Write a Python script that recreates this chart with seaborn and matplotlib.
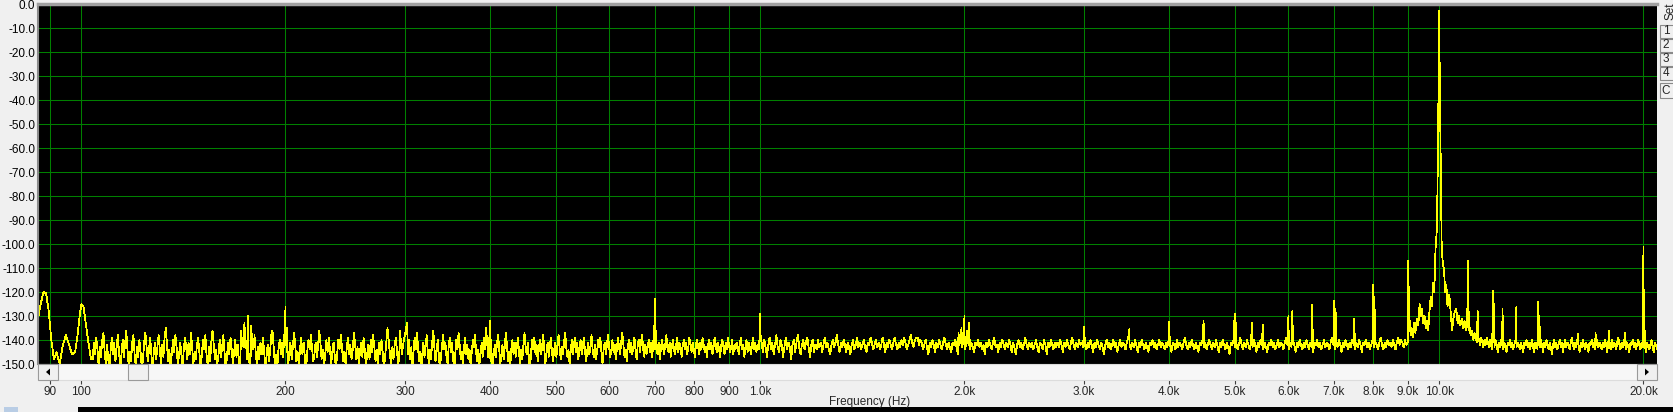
import numpy as np
import pandas as pd
import matplotlib
matplotlib.use("Agg")
import matplotlib.pyplot as plt
import seaborn as sns
from matplotlib.patches import Rectangle, Polygon
from matplotlib.ticker import NullLocator

# ---- data (dB) ----
# start of the trace: mains harmonics at the left edge
low_freqs = [86.4, 87.2, 88.0, 88.8, 89.6, 90.4, 91.2, 92.0, 93.0, 94.0, 95.0,
             96.0, 97.0, 98.0, 98.8, 99.5, 100.1, 100.8, 101.6, 102.5, 103.4]
low_db = [-131, -125, -120, -120.5, -128, -140, -148, -145, -150, -142, -138,
          -142, -146, -145, -138, -130, -125, -126, -133, -141, -148]

# noise floor, band by band (start Hz, end Hz, readings)
b1_range = (104, 298)
b1_db = [-148, -141, -146, -139, -144, -151, -143, -147, -140, -137, -145, -150, -142, -148, -153, -144, -139, -146, -141, -149,
         -143, -138, -145, -152, -146, -140, -147, -142, -136, -144, -150, -145, -149, -141, -138, -146, -151, -143, -147, -140,
         -145, -152, -148, -141, -137, -143, -149, -144, -139, -146, -153, -145, -141, -148, -143, -138, -144, -150, -142, -147,
         -139, -135, -142, -149, -144, -151, -146, -140, -145, -138, -143, -150, -147, -141, -146, -152, -144, -139, -143, -148,
         -141, -146, -137, -143, -150, -145, -148, -142, -139, -145, -152, -147, -140, -144, -138, -146, -151, -143, -149, -141,
         -136, -142, -148, -144, -150, -146, -140, -147, -143, -138, -145, -153, -147, -141, -146, -139, -144, -150, -145, -140,
         -147, -142, -149, -152, -144, -139, -143, -137, -142, -148, -145, -151, -146, -140, -144, -138, -145, -150, -143, -148,
         -141, -146, -139, -144, -151, -147, -142, -149, -145, -138, -136, -143, -150, -146, -152, -144, -140, -146, -141, -147,
         -143, -138, -145, -151, -146, -141, -148, -143, -137, -142, -149, -145, -150, -144, -139, -146, -141, -147, -153, -145,
         -140, -144, -138, -143, -149, -146, -141, -147, -143, -136, -141, -148, -144, -151, -146, -140, -145, -139, -144, -150,
         -145, -141, -147, -152, -146, -140, -144, -138, -143, -149, -145, -150, -143, -139, -146, -142, -148, -144, -137, -142,
         -148, -143, -150, -145, -141, -147, -139, -144, -151, -146, -142, -148, -140, -145, -138, -143, -149, -144, -150, -141,
         -146, -140, -145, -152, -147, -141, -135, -140, -146, -150, -143, -148, -142, -139, -145, -151, -144, -140, -146, -142]

b2_range = (303, 995)
b2_db = [-146, -140, -148, -143, -151, -145, -139, -144, -137, -142, -149, -145, -152, -146, -141, -147, -143, -138, -145, -150,
         -144, -148, -141, -136, -143, -149, -145, -140, -146, -152, -147, -142, -138, -144, -141, -147, -150, -143, -139, -145,
         -141, -147, -153, -146, -140, -144, -137, -142, -148, -145, -150, -143, -139, -146, -142, -148, -144, -151, -145, -140,
         -143, -138, -145, -149, -144, -150, -146, -141, -147, -139, -144, -135, -141, -147, -143, -149, -145, -152, -146, -142,
         -147, -141, -138, -144, -150, -146, -142, -148, -143, -137, -142, -149, -145, -151, -144, -140, -146, -141, -147, -143,
         -139, -145, -150, -144, -148, -142, -137, -143, -146, -141, -148, -152, -145, -140, -144, -139, -146, -142, -149, -144,
         -140, -146, -143, -138, -144, -150, -145, -141, -147, -143, -139, -145, -149, -144, -141, -147, -142, -138, -144, -148,
         -143, -146, -141, -137, -143, -147, -144, -150, -145, -140, -146, -142, -139, -145, -141, -148, -144, -140, -146, -143,
         -139, -144, -149, -145, -141, -146, -143, -138, -144, -147, -142, -148, -145, -140, -143, -139, -145, -150, -144, -141,
         -146, -142, -138, -143, -147, -144, -140, -145, -142, -148, -144, -139, -143, -146, -141, -137, -142, -147, -144, -149,
         -143, -140, -145, -141, -146, -143, -139, -144, -148, -142, -140, -145, -141, -138, -144, -147, -142, -146, -143, -140,
         -145, -141, -147, -143, -139, -144, -142, -146, -141, -148, -144, -140, -143, -146, -142, -138, -143, -145, -141, -147,
         -143, -140, -144, -146, -142, -139, -145, -141, -143, -147, -142, -140, -144, -141, -146, -143, -139, -142, -145, -141,
         -144, -147, -142, -140, -143, -146, -141, -144, -139, -142, -145, -143, -147, -142, -140, -144, -141, -146, -143, -139,
         -142, -145, -141, -144, -147, -142, -140, -143, -146, -141, -144, -139, -142, -145, -143, -140, -146, -142, -144, -141,
         -143, -146, -141, -139, -144, -142, -147, -143, -140, -145, -141, -143, -146, -142, -139, -144, -141, -145, -142, -144]

b3_range = (1005, 2990)
b3_db = [-141, -145, -140, -143, -147, -142, -139, -144, -141, -146, -142, -138, -143, -145, -140, -142, -147, -143, -139, -144,
         -141, -143, -148, -142, -140, -145, -141, -138, -143, -146, -142, -140, -144, -141, -139, -143, -147, -142, -140, -145,
         -142, -144, -140, -143, -141, -145, -142, -139, -143, -141, -144, -146, -142, -140, -143, -141, -138, -142, -145, -141,
         -143, -140, -142, -145, -141, -143, -146, -142, -140, -144, -142, -139, -143, -141, -144, -142, -140, -143, -145, -141,
         -142, -139, -141, -144, -142, -140, -143, -141, -144, -142, -139, -142, -145, -141, -143, -140, -142, -144, -141, -139,
         -142, -144, -141, -143, -140, -142, -139, -141, -144, -142, -140, -138, -141, -143, -140, -139, -139, -142, -140, -141,
         -144, -142, -140, -143, -146, -141, -143, -140, -142, -145, -141, -143, -140, -142, -144, -141, -139, -142, -144, -141,
         -143, -145, -141, -142, -140, -143, -146, -142, -140, -143, -141, -144, -142, -139, -142, -144, -141, -143, -145, -141,
         -142, -140, -143, -141, -144, -142, -146, -141, -143, -140, -142, -144, -141, -139, -143, -142, -145, -141, -143, -140,
         -142, -144, -141, -143, -140, -142, -145, -141, -143, -146, -142, -140, -143, -141, -144, -142, -139, -142, -144, -141,
         -143, -141, -144, -142, -140, -143, -145, -141, -142, -144, -140, -142, -146, -141, -143, -140, -142, -144, -141, -143,
         -141, -143, -140, -142, -145, -141, -143, -140, -142, -144, -141, -139, -142, -144, -141, -143, -140, -142, -141, -143]

b4_range = (3010, 8990)
b4_db = [-142, -144, -141, -143, -140, -142, -145, -141, -143, -140, -142, -144, -141, -143, -146, -142, -140, -143, -141, -144,
         -142, -140, -143, -141, -145, -142, -140, -143, -141, -142, -144, -141, -139, -142, -144, -141, -143, -140, -142, -145,
         -141, -143, -140, -142, -144, -141, -143, -145, -141, -142, -140, -143, -141, -144, -142, -140, -143, -141, -142, -144,
         -141, -143, -140, -142, -145, -141, -142, -144, -140, -143, -141, -142, -144, -141, -139, -142, -144, -141, -143, -140,
         -142, -144, -141, -143, -145, -141, -142, -140, -143, -141, -144, -142, -140, -142, -144, -141, -143, -140, -142, -145,
         -141, -143, -140, -142, -144, -141, -143, -146, -141, -142, -140, -143, -141, -144, -142, -139, -142, -144, -141, -143,
         -140, -142, -144, -141, -143, -140, -142, -145, -141, -143, -140, -142, -144, -141, -143, -145, -141, -142, -140, -143,
         -141, -144, -142, -140, -143, -141, -142, -144, -141, -139, -142, -144, -141, -143, -140, -142, -145, -141, -143, -140,
         -142, -144, -141, -143, -140, -142, -144, -141, -143, -145, -141, -142, -140, -143, -141, -144, -142, -140, -143, -141,
         -142, -144, -141, -139, -142, -144, -141, -143, -140, -142, -145, -141, -143, -140, -142, -144, -141, -143, -140, -142,
         -144, -141, -143, -140, -142, -145, -141, -142, -140, -143, -141, -144, -142, -140, -143, -141, -142, -144, -141, -139,
         -142, -144, -141, -143, -140, -142, -141, -143, -140, -142, -144, -141, -139, -142, -140, -141, -143, -140, -142, -141]

b5_range = (11110, 20940)
b5_db = [-135, -138, -136, -140, -137, -139, -141, -138, -140, -142, -139, -141, -143, -140, -142, -139, -141, -143, -140, -142,
         -144, -141, -143, -140, -142, -145, -141, -143, -140, -142, -144, -141, -143, -145, -141, -142, -140, -143, -141, -144,
         -142, -140, -143, -141, -142, -144, -141, -143, -145, -141, -142, -140, -143, -141, -144, -142, -140, -143, -145, -141,
         -142, -144, -141, -143, -140, -142, -145, -141, -143, -140, -142, -144, -141, -143, -146, -142, -140, -143, -141, -144,
         -142, -140, -143, -141, -145, -142, -140, -143, -141, -142, -144, -141, -139, -142, -144, -141, -143, -140, -142, -145,
         -141, -143, -140, -142, -144, -141, -143, -145, -141, -142, -140, -143, -141, -144, -142, -140, -143, -141, -142, -144,
         -141, -143, -140, -142, -145, -141, -142, -144, -140, -143, -141, -142, -144, -141, -139, -142, -144, -141, -143, -140,
         -142, -144, -141, -143, -145, -141, -142, -140, -143, -141, -144, -142, -140, -142, -144, -141, -143, -140, -142, -145,
         -141, -143, -144, -142, -140, -143, -145, -141, -142, -144]

# discrete spurs / harmonics
spur_freqs = [172, 174, 176, 178, 180, 199, 200, 201, 295, 302, 399, 400, 401,
              698, 700, 702, 999, 1000, 1002, 1960, 1980, 2000, 2015, 2030,
              3000, 3500, 4000, 4500, 5000, 5025, 5300, 5500, 6000, 6080, 6500,
              7000, 7040, 7500, 8000, 8030,
              11400, 12000, 12060, 12400, 13000, 14000, 14060, 16000, 17000,
              17800, 18800, 20000, 20040]
spur_db = [-136, -133, -130, -134, -139, -138, -126, -135, -136, -133, -139, -132, -140,
           -134, -123, -136, -138, -129, -139, -137, -135, -130, -136, -133,
           -134.5, -135.5, -132.5, -132, -129, -133, -133, -133.5, -130, -128, -125.5,
           -123.5, -127, -131, -117, -122,
           -128, -119.5, -125, -127, -126, -124, -130, -137.5, -137,
           -136, -137, -101, -119]

# the 10 kHz test tone and its skirt
tone_freqs = [9000, 9020, 9050, 9080, 9110, 9150, 9190, 9230, 9270, 9320, 9360, 9400,
              9440, 9480, 9520, 9560, 9600, 9640, 9680, 9720, 9760, 9800, 9840, 9880,
              9930, 9970, 10000, 10030, 10060, 10090, 10130, 10170, 10210, 10250, 10290,
              10330, 10370, 10410, 10450, 10500, 10550, 10600, 10650, 10700, 10750,
              10800, 10850, 10900, 10950, 11000, 11030, 11060, 11090]
tone_db = [-107, -118, -132, -138, -135, -139, -133, -137, -131, -134, -125, -130,
           -127, -133, -130, -135, -132, -136, -128, -122, -126, -116, -120, -102,
           -93, -53, -3, -38, -70, -102, -108, -111, -120, -117, -126,
           -121, -123, -130, -136, -131, -128, -127, -133, -130, -134,
           -131, -135, -132, -136, -134, -107, -133, -137]

x_ticks = [90, 100, 200, 300, 400, 500, 600, 700, 800, 900, 1000, 2000, 3000,
           4000, 5000, 6000, 7000, 8000, 9000, 10000, 20000]
x_labels = ["90", "100", "200", "300", "400", "500", "600", "700", "800", "900",
            "1.0k", "2.0k", "3.0k", "4.0k", "5.0k", "6.0k", "7.0k", "8.0k",
            "9.0k", "10.0k", "20.0k"]
y_ticks = list(range(-150, 1, 10))

# ---- build the trace ----
parts_f = [np.array(low_freqs, float), np.array(spur_freqs, float), np.array(tone_freqs, float)]
parts_d = [np.array(low_db, float), np.array(spur_db, float), np.array(tone_db, float)]
for rng, vals in [(b1_range, b1_db), (b2_range, b2_db), (b3_range, b3_db),
                  (b4_range, b4_db), (b5_range, b5_db)]:
    parts_f.append(np.geomspace(rng[0], rng[1], len(vals)))
    parts_d.append(np.array(vals, float))

spec = pd.DataFrame({"freq": np.concatenate(parts_f), "db": np.concatenate(parts_d)})
spec = spec.sort_values("freq").reset_index(drop=True)

# ---- figure ----
W, H = 1674, 412
sns.set_style("dark")
plt.rcParams["font.family"] = ["Liberation Sans", "DejaVu Sans"]

fig = plt.figure(figsize=(W / 100, H / 100), dpi=100, facecolor="#f0f0f0")
ax = fig.add_axes([38 / W, 1 - 364 / H, 1619 / W, 360 / H])
ax.set_facecolor("black")

sns.lineplot(data=spec, x="freq", y="db", estimator=None, sort=True,
             color="#ffff00", lw=0.55, antialiased=False, ax=ax)

ax.set_xscale("log")
ax.set_xlim(86.4, 20940)
ax.set_ylim(-150, 0)
ax.set_xticks(x_ticks)
ax.set_xticklabels([])
ax.xaxis.set_minor_locator(NullLocator())
ax.set_yticks(y_ticks)
ax.set_yticklabels([f"{v:.1f}" for v in y_ticks])
ax.tick_params(axis="y", length=0, pad=2, labelsize=8.5, labelcolor="black")
ax.tick_params(axis="x", length=0)
ax.grid(True, color="#008000", lw=0.75)
ax.set_xlabel("")
ax.set_ylabel("")
for s in ["right", "bottom"]:
    ax.spines[s].set_visible(False)
ax.spines["left"].set_color("#8a8a8a")
ax.spines["left"].set_linewidth(1.5)
ax.spines["top"].set_color("#a0a0a0")
ax.spines["top"].set_linewidth(2.5)

# frequency scale below the scroll bar
sec = ax.secondary_xaxis(-16 / 360)
sec.set_xticks(x_ticks)
sec.set_xticklabels(x_labels)
sec.xaxis.set_minor_locator(NullLocator())
sec.tick_params(length=3, width=0.8, pad=1.5, labelsize=8.5, color="#404040")
sec.spines["bottom"].set_visible(False)

fig.text(870 / W, 1 - 402 / H, "Frequency (Hz)", ha="center", va="center", fontsize=8.5)


def px_rect(x0, y0, x1, y1, **kw):
    fig.add_artist(Rectangle((x0 / W, 1 - y1 / H), (x1 - x0) / W, (y1 - y0) / H,
                             transform=fig.transFigure, **kw))


# scroll bar
px_rect(38, 364, 1657, 380, fc="#f7f7f7", ec="#dcdcdc", lw=0.8)
for x0, x1 in [(38, 58), (128, 148), (1637, 1657)]:
    px_rect(x0, 364, x1, 380, fc="#f0f0f0", ec="#9a9a9a", lw=0.8)
for pts in [[(46, 372), (50, 368.5), (50, 375.5)], [(1649, 372), (1645, 368.5), (1645, 375.5)]]:
    fig.add_artist(Polygon([(x / W, 1 - y / H) for x, y in pts], closed=True,
                           transform=fig.transFigure, fc="black", ec="none"))

# side panel buttons
fig.text(1671 / W, 1 - 2 / H, "Set", rotation=90, ha="center", va="top", fontsize=8.5)
for lbl, (y0, y1) in zip(["1", "2", "3", "4", "C"],
                         [(25, 38), (39, 52), (53, 66), (67, 80), (83, 98)]):
    px_rect(1660, y0, 1676, y1, fc="#f0f0f0", ec="#8a8a8a", lw=0.8)
    fig.text(1666 / W, 1 - (y0 + y1) / 2 / H, lbl, ha="center", va="center", fontsize=8.5)

# next window peeking in at the bottom
px_rect(78, 407, 1674, 412, fc="black", ec="none")
px_rect(4, 407, 18, 412, fc="#b9cde5", ec="none")

fig.savefig("out.png", dpi=100, facecolor=fig.get_facecolor())
